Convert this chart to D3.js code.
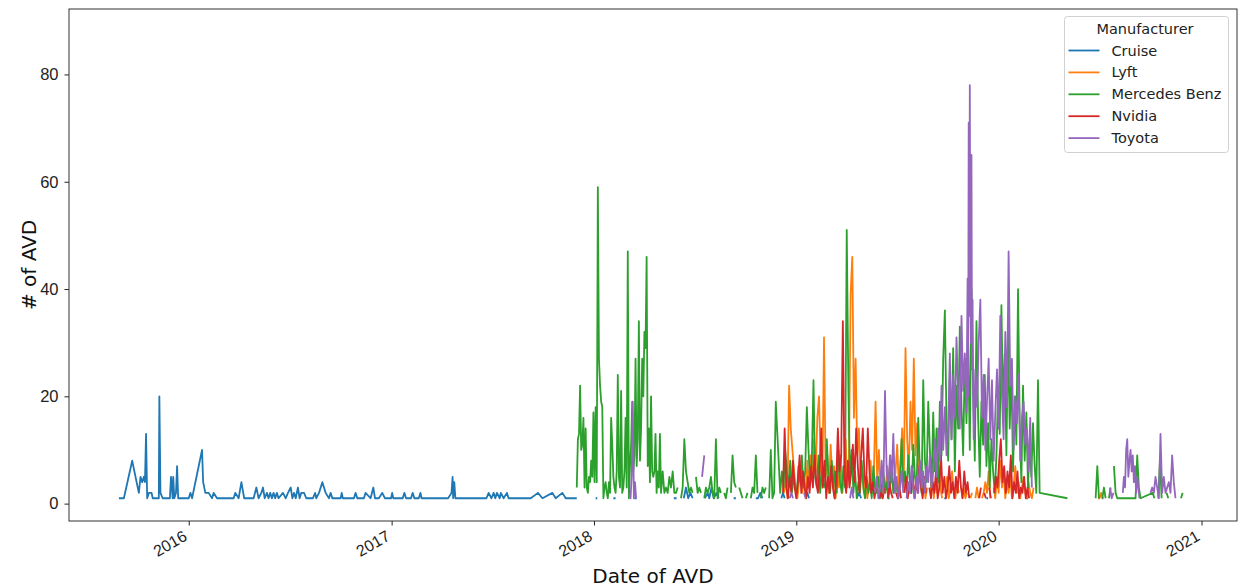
<!DOCTYPE html>
<html>
<head>
<meta charset="utf-8">
<script src="https://cdn.jsdelivr.net/npm/d3@7"></script>
<style>
  body { margin: 0; background: #fff; }
  svg { font-family: "DejaVu Sans", sans-serif; }
</style>
</head>
<body>
<svg width="1238" height="587"></svg>
<script>
// manufacturers + tab10 colours
const manufacturers = ["Cruise", "Lyft", "Mercedes Benz", "Nvidia", "Toyota"];
const colors = ["#1f77b4", "#ff7f0e", "#2ca02c", "#d62728", "#9467bd"];
const yTicks = [0, 20, 40, 60, 80];
const xTickYears = [2016, 2017, 2018, 2019, 2020, 2021];

// Cruise: irregular dates, null = gap
const cruise = [
  ["2015-08-28",1],["2015-09-06",1],["2015-09-21",8],["2015-10-03",2],["2015-10-06",5],["2015-10-09",4],
  ["2015-10-12",5],["2015-10-14",4],["2015-10-16",13],["2015-10-18",1],["2015-10-21",2],["2015-10-26",2],
  ["2015-10-28",1],["2015-11-08",1],["2015-11-09",20],["2015-11-11",2],["2015-11-15",1],["2015-11-28",1],
  ["2015-11-30",5],["2015-12-03",1],["2015-12-04",5],["2015-12-06",1],["2015-12-09",2],["2015-12-11",7],
  ["2015-12-13",1],["2016-01-01",1],["2016-01-04",2],["2016-01-07",1],["2016-01-25",10],["2016-01-27",4],
  ["2016-01-31",2],["2016-02-06",2],["2016-02-12",1],["2016-02-15",2],["2016-02-21",1],["2016-03-22",1],
  ["2016-03-25",2],["2016-03-31",1],["2016-04-05",4],["2016-04-10",1],["2016-04-27",1],["2016-05-02",3],
  ["2016-05-06",1],["2016-05-11",2],["2016-05-14",3],["2016-05-17",1],["2016-05-21",2],["2016-05-24",1],
  ["2016-05-27",2],["2016-05-30",1],["2016-06-02",2],["2016-06-05",1],["2016-06-08",2],["2016-06-11",1],
  ["2016-06-19",2],["2016-06-24",1],["2016-06-28",2],["2016-07-03",3],["2016-07-06",1],["2016-07-09",2],
  ["2016-07-12",1],["2016-07-16",3],["2016-07-19",1],["2016-07-22",2],["2016-07-27",2],["2016-07-31",1],
  ["2016-08-12",1],["2016-08-16",2],["2016-08-18",1],["2016-08-23",2],["2016-08-29",4],["2016-09-01",3],
  ["2016-09-04",2],["2016-09-10",1],["2016-09-13",2],["2016-09-16",1],["2016-10-01",1],["2016-10-03",2],
  ["2016-10-05",1],["2016-10-25",1],["2016-10-28",2],["2016-10-31",1],["2016-11-12",1],["2016-11-15",2],
  ["2016-11-24",1],["2016-11-29",3],["2016-12-02",1],["2016-12-09",1],["2016-12-15",2],["2016-12-20",1],
  ["2016-12-31",1],["2017-01-02",2],["2017-01-04",1],["2017-01-21",1],["2017-01-24",2],["2017-01-27",1],
  ["2017-02-05",1],["2017-02-08",2],["2017-02-11",1],["2017-02-19",1],["2017-02-22",2],["2017-02-24",1],
  ["2017-04-13",1],["2017-04-19",2],["2017-04-21",5],["2017-04-22",1],["2017-04-24",4],["2017-04-26",1],
  ["2017-06-21",1],["2017-06-25",2],["2017-06-30",1],["2017-07-04",2],["2017-07-07",1],["2017-07-10",2],
  ["2017-07-15",1],["2017-07-17",2],["2017-07-22",1],["2017-07-28",2],["2017-07-31",1],["2017-09-09",1],
  ["2017-09-22",2],["2017-09-30",1],["2017-10-18",2],["2017-10-24",1],["2017-11-05",2],["2017-11-11",1],
  ["2017-12-01",1], null,
  ["2018-01-04",1],["2018-01-07",1], null, ["2018-02-05",1],["2018-02-09",1], null,
  ["2018-03-15",1],["2018-03-19",1], null, ["2018-05-25",1],["2018-05-30",1], null,
  ["2018-06-12",1],["2018-06-16",3],["2018-06-20",1],["2018-06-24",2],["2018-06-28",1], null,
  ["2018-07-20",1],["2018-07-25",2],["2018-07-28",1],["2018-08-01",3],["2018-08-05",1],["2018-08-10",2],["2018-08-14",1], null,
  ["2018-09-10",1],["2018-09-14",1], null, ["2018-10-20",1],["2018-10-24",1],["2018-10-28",2],["2018-11-01",1], null,
  ["2018-12-05",1],["2018-12-08",2],["2018-12-11",1], null, ["2019-01-18",1],["2019-01-21",2],["2019-01-24",1], null,
  ["2019-03-10",1],["2019-03-13",1], null, ["2019-04-20",1],["2019-04-24",2],["2019-04-28",1], null,
  ["2019-06-15",1],["2019-06-18",1], null, ["2019-09-25",1],["2019-09-28",1], null,
  ["2019-12-10",1],["2019-12-13",1], null, ["2020-02-20",1],["2020-02-23",1], null,
  ["2020-07-05",1],["2020-07-08",1]
];

// the rest: runs of values every `step` days from `start`, null = gap
const lyft = [
  { start: "2018-12-10", step: 3, values: [
    2,5,1,22,14,10,6,3,1,4,7,2,5,1,8,3,9,4,12,6,16,20,7,3,31,5,9,2,11,4,
    7,1,6,3,9,2,5,12,3,8,39,46,16,27,9,14,4,7,2,5,1,3,8,2,6,19,4,10,3,1,
    5,2,7,3,9,4,2,6,11,3,8,14,5,29,12,6,19,10,27,9,15,4,7,2,5,1,3,null,2,6,
    1,4,2,7,3,1,null,2,5,1,3,6,2,1,4,2,null,1,3,1,2,null,1,2,null,1,
    3,1,null,1,2,4,2,6,1,null,3,1,5,2,8,3,6,1,4,2,5,1,3,7,2,4,1,3,5,2,
    1,4,2,1,3,null] },
  { start: "2020-06-28", step: 3, values: [1,1,2,1] }
];

const mercedes = [
  { start: "2017-12-01", step: 2, values: [
    3,12,13,22,10,11,16,3,14,3,2,5,4,8,5,17,4,18,4,59,27,22,19,18,1,3,4,2,1,4,
    2,16,11,5,3,2,6,24,5,3,21,2,3,6,16,3,47,1,7,11,19,6,9,27,7,12,34,8,14,27,
    20,32,29,46,7,14,4,20,6,5,6,13,2,6,3,13] },
  { start: "2018-05-02", step: 3, values: [
    2,6,2,3,2,5,3,6,2,2,3,null,1,3,12,6,4,2,3,2,null,5,2,3,2,null,1,3,2,3,
    5,2,1,12,1,3,2,null,2,1,3,null,2,9,4,3,null,3,2,1,null,1,2,null,1,3,2,9,2,null,
    1,3,2,3,null,1,10,1,2,19] },
  { start: "2018-12-03", step: 3, values: [
    2,6,3,10,6,3,8,2,5,3,2,7,4,9,3,6,18,10,4,8,23,5,3,9,2,6,4,3,12,5,
    2,8,3,6,2,10,4,2,7,3,51,21,4,10,2,6,1,4,2,8,3,1,5,2,4,1,7,3,2,5,
    1,3,6,2,4,1,3,8,2,5,3,1,4,12,3,6,2,9,4,2,11,5,3,16,6,2,23,8,4,19,
    10,3,17,6,14,4,19,9,27,36,15,8,25,12,29,6,22,14,33,18,9,27,15,30,10,40,21,8,34,16,
    5,19,11,24,7,15,3,12,6,2,9,21,13,37,18,28,9,32,14,25,6,20,11,40,15,4,22,8,17,3,
    12,5,15,7,2,23,2] },
  { start: "2020-05-04", step: 3, values: [1, null] },
  { start: "2020-06-24", step: 3, values: [1,7,1,null,1,3,1,null,1,3,null,7,2,1] },
  { start: "2020-09-04", step: 3, values: [1,9,3,1] },
  { start: "2020-10-05", step: 3, values: [2,1,null] },
  { start: "2020-10-15", step: 3, values: [1,8,1,null] },
  { start: "2020-10-30", step: 3, values: [2,1,null] },
  { start: "2020-11-25", step: 3, values: [1,2] }
];

const nvidia = [
  { start: "2018-12-08", step: 3, values: [
    2,14,3,1,5,2,8,3,1,4,9,2,6,3,1,5,2,7,3,9,4,2,6,14,3,8,1,5,2,7,
    3,1,4,14,6,9,34,5,2,8,3,6,11,4,14,7,2,9,14,5,3,14,6,2,4,1,3,null,1,2,
    1,3,null,1,4,2,1,null,2,1,3,1,null,2,5,1,3,2,6,1,4,2,7,3,1,5,2,null,
    3,1,4,2,6,1,3,9,2,5,1,3,7,2,4,1,5,2,8,3,1,6,2,4,1,null,3,null,2,null,
    1,3,null,2,1,null,3,1,null,2,5,3,8,12,4,7,2,6,3,9,1,4,2,6,1,3,2,5,
    1,3,1] }
];

const toyota = [
  { start: "2018-03-06", step: 2, values: [2,1,5,19,1,4,1,null] },
  { start: "2018-07-15", step: 4, values: [5,9,null] },
  { start: "2018-12-20", step: 3, values: [1,2,1,null] },
  { start: "2019-01-15", step: 3, values: [2,1,null] },
  { start: "2019-04-08", step: 3, values: [1,3,1,null] },
  { start: "2019-05-23", step: 3, values: [
    2,5,1,3,8,2,21,6,3,9,4,13,2,5,1,3,6,2,null,1,4,2,7,3,1,5,2,8,3,6,
    2,7,4,9,3,6,12,5,14,8,22,10,18,9,14,28,12,24,16,31,20,14,35,21,28,17] },
  { start: "2019-11-05", step: 1, values: [30,42,20,71,35,78,40,30,65,25,38,20,12] },
  { start: "2019-11-20", step: 3, values: [
    25,18,30,38,16,24,10,19,27,12,23,8,17,25,14,35,20,12,32,18,47,22,27,10,20,15,24,8,16,19,
    11,14,6,16,3,null] },
  { start: "2020-07-20", step: 3, values: [3,1,2,null] },
  { start: "2020-08-12", step: 2, values: [2,5,3,10,12,5,8,10,6,9,4,7,2,5,3,1,null] },
  { start: "2020-10-01", step: 3, values: [2,3,2,5,3,1,13,2,5,2,3,4,2,9,4,1,null] }
];

const parse = d3.utcParse("%Y-%m-%d");

function fromPairs(arr) {
  return arr.map(p => p ? { date: parse(p[0]), value: p[1] } : { date: null, value: null });
}
function fromRuns(runs) {
  const out = [];
  runs.forEach(r => {
    const t0 = parse(r.start);
    r.values.forEach((v, i) => out.push({ date: d3.utcDay.offset(t0, i * r.step), value: v }));
  });
  return out;
}

const series = [fromPairs(cruise), fromRuns(lyft), fromRuns(mercedes), fromRuns(nvidia), fromRuns(toyota)];

const svg = d3.select("svg");
const plotL = 69, plotR = 1237, plotT = 9, plotB = 521;

const x = d3.scaleUtc()
  .domain([parse("2015-05-30"), parse("2021-03-06")])
  .range([plotL, plotR]);
const y = d3.scaleLinear()
  .domain([-3.24, 92.2])
  .range([plotB, plotT]);

// lines
const line = d3.line()
  .defined(d => d.value != null && d.date != null)
  .x(d => x(d.date))
  .y(d => y(d.value));

svg.append("defs").append("clipPath").attr("id", "plot")
  .append("rect").attr("x", plotL).attr("y", plotT).attr("width", plotR - plotL).attr("height", plotB - plotT);

svg.append("g").attr("clip-path", "url(#plot)")
  .selectAll("path")
  .data(series)
  .join("path")
  .attr("fill", "none")
  .attr("stroke", (d, i) => colors[i])
  .attr("stroke-width", 1.8)
  .attr("stroke-linejoin", "round")
  .attr("d", line);

// axes
const xAxis = d3.axisBottom(x)
  .tickValues(xTickYears.map(yr => new Date(Date.UTC(yr, 0, 1))))
  .tickFormat(d3.utcFormat("%Y"))
  .tickSize(4.5).tickSizeOuter(0);
const gx = svg.append("g").attr("transform", `translate(0,${plotB})`).call(xAxis);
gx.select(".domain").remove();
gx.selectAll(".tick line").attr("stroke", "#222");
gx.selectAll(".tick text")
  .attr("font-size", 16)
  .attr("fill", "#222")
  .attr("text-anchor", "end")
  .attr("y", 0).attr("dy", "0.75em")
  .attr("transform", "translate(-7,8) rotate(-30)");

const yAxis = d3.axisLeft(y).tickValues(yTicks).tickSize(4.5).tickPadding(6).tickSizeOuter(0);
const gy = svg.append("g").attr("transform", `translate(${plotL},0)`).call(yAxis);
gy.select(".domain").remove();
gy.selectAll(".tick line").attr("stroke", "#222");
gy.selectAll(".tick text").attr("font-size", 16.5).attr("fill", "#222");

// frame
svg.append("rect")
  .attr("x", plotL).attr("y", plotT)
  .attr("width", plotR - plotL).attr("height", plotB - plotT)
  .attr("fill", "none").attr("stroke", "#333").attr("stroke-width", 1);

// axis titles
svg.append("text")
  .attr("x", (plotL + plotR) / 2).attr("y", 583)
  .attr("text-anchor", "middle").attr("font-size", 20).attr("fill", "#111")
  .text("Date of AVD");
svg.append("text")
  .attr("transform", `translate(36,${(plotT + plotB) / 2}) rotate(-90)`)
  .attr("text-anchor", "middle").attr("font-size", 20).attr("fill", "#111")
  .text("# of AVD");

// legend
const lg = svg.append("g");
lg.append("rect")
  .attr("x", 1064.5).attr("y", 16.5).attr("width", 164).attr("height", 136)
  .attr("rx", 3).attr("fill", "#fff").attr("fill-opacity", 0.8)
  .attr("stroke", "#d0d0d0");
lg.append("text")
  .attr("x", 1145).attr("y", 34)
  .attr("text-anchor", "middle").attr("font-size", 14.5).attr("fill", "#222")
  .text("Manufacturer");
const item = lg.selectAll("g.item")
  .data(manufacturers)
  .join("g").attr("class", "item")
  .attr("transform", (d, i) => `translate(0,${50.5 + i * 21.9})`);
item.append("line")
  .attr("x1", 1068.5).attr("x2", 1099.5)
  .attr("stroke", (d, i) => colors[i]).attr("stroke-width", 1.8);
item.append("text")
  .attr("x", 1111.5).attr("dy", "0.35em")
  .attr("font-size", 14.5).attr("fill", "#222")
  .text(d => d);
</script>
</body>
</html>
